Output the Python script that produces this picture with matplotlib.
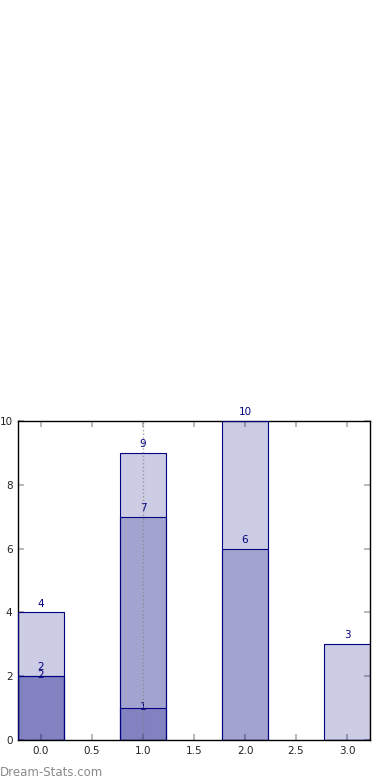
import matplotlib
matplotlib.use("Agg")
import matplotlib.pyplot as plt

positions = [0, 1, 2, 3]
series_a = [4, 9, 10, 3]
series_b = [2, 7, 6, 0]
series_c = [2, 1, 0, 0]

fig = plt.figure(figsize=(3.9, 7.8), dpi=100)
ax = fig.add_axes([18 / 390, 40 / 780, 352 / 390, 319 / 780])

for vals in (series_a, series_b, series_c):
    ax.bar(positions, vals, width=0.45, color="navy", alpha=0.2, zorder=2)
    ax.bar(positions, vals, width=0.45, facecolor="none", edgecolor="navy",
           linewidth=0.8, zorder=3)

ax.axvline(1.0, color="gray", linestyle=":", linewidth=1, alpha=0.7, zorder=4)

for x, v in zip(positions, series_a):
    if v:
        ax.text(x, v + 0.12, str(v), ha="center", va="bottom", color="navy", fontsize=7.5)
for x, v in zip(positions, series_b):
    if v:
        ax.text(x, v + 0.12, str(v), ha="center", va="bottom", color="navy", fontsize=7.5)
for x, v in zip(positions, series_c):
    if v:
        ax.text(x, v + 0.03, str(v), ha="center", va="center", color="navy", fontsize=7.5)

ax.set_xlim(-0.225, 3.225)
ax.set_ylim(0, 10)
ax.set_xticks([0, 0.5, 1, 1.5, 2, 2.5, 3])
ax.set_xticklabels(["0.0", "0.5", "1.0", "1.5", "2.0", "2.5", "3.0"])
ax.set_yticks([0, 2, 4, 6, 8, 10])
ax.tick_params(direction="in", length=4, width=1.5, color="#bbbbbb",
               top=True, right=True, labelsize=7.5, labelcolor="#222222", pad=4)
for sp in ax.spines.values():
    sp.set_linewidth(1)
    sp.set_color("black")

fig.text(0.0, 4 / 780, "Dream-Stats.com", color="#8a8a8a", fontsize=8.5,
         ha="left", va="baseline")

fig.savefig("out.png", dpi=100)
